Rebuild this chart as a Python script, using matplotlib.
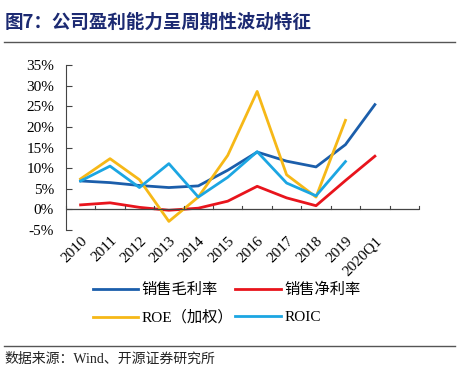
import matplotlib.pyplot as plt
from matplotlib.lines import Line2D

plt.rcParams['font.family'] = ['Liberation Serif', 'Noto Sans CJK SC', 'DejaVu Sans']

categories = ["2010", "2011", "2012", "2013", "2014", "2015", "2016",
              "2017", "2018", "2019", "2020Q1", ""]
gross_margin = [6.9, 6.5, 5.8, 5.3, 5.7, 9.5, 13.9, 11.7, 10.3, 15.7, 25.4]
net_margin = [1.1, 1.6, 0.5, -0.2, 0.3, 2.0, 5.6, 2.8, 0.9, 7.0, 12.9]
roe = [7.4, 12.3, 7.2, -2.9, 3.0, 13.1, 28.6, 8.4, 3.0, 21.6]
roic = [6.9, 10.5, 5.3, 11.1, 3.0, 7.8, 14.0, 6.4, 3.3, 11.6]

series = [
    ("销售毛利率", gross_margin, "#1b5eab"),
    ("销售净利率", net_margin, "#e8141c"),
    ("ROE（加权）", roe, "#f6b817"),
    ("ROIC", roic, "#1ca6e2"),
]

fig = plt.figure(figsize=(4.74, 3.79), dpi=100)
ax = fig.add_axes([0.139, 0.393, 0.745, 0.4355])

for name, vals, color in series:
    ax.plot([i + 0.5 for i in range(len(vals))], vals, color=color, lw=2.0)

ax.set_xlim(0, len(categories))
ax.set_ylim(-5, 35)
ax.set_yticks(range(-5, 36, 5))
ax.set_yticklabels([f"{v}%" for v in range(-5, 36, 5)], fontsize=11)
ax.set_xticks([i + 0.5 for i in range(len(categories))])
ax.set_xticklabels(categories, fontsize=11, rotation=45, ha="right",
                   rotation_mode="anchor")
ax.tick_params(axis="x", length=0, pad=3)
ax.tick_params(axis="y", direction="in", length=4, pad=8.5, color="#444444")
# category boundary ticks on the zero line
for i in range(len(categories) + 1):
    ax.plot([i, i], [0, 0.8], color="#444444", lw=0.8, clip_on=False)

for s in ["top", "right", "bottom"]:
    ax.spines[s].set_visible(False)
ax.spines["left"].set_color("#444444")
ax.axhline(0, color="#444444", lw=0.9)

handles = [Line2D([], [], color=c, lw=2) for _, _, c in series]
labels = [n for n, _, _ in series]
order = [0, 2, 1, 3]
fig.legend([handles[i] for i in order], [labels[i] for i in order], ncol=2,
           frameon=False, loc="center", bbox_to_anchor=(0.478, 0.198),
           fontsize=11, handlelength=3.0, handletextpad=0.2,
           columnspacing=0.15, labelspacing=0.85)

fig.text(0.01, 0.94, "图7：公司盈利能力呈周期性波动特征", fontsize=13.3,
         fontweight="bold", color="#1c2a72", family="Noto Sans CJK SC",
         va="center")
fig.add_artist(Line2D([0.008, 0.96], [0.888, 0.888], color="#555555", lw=1.0))
fig.add_artist(Line2D([0.008, 0.96], [0.087, 0.087], color="#555555", lw=1.0))
fig.text(0.01, 0.052, "数据来源：Wind、开源证券研究所", fontsize=10,
         color="#222222", va="center")

fig.savefig("out.png", dpi=100)
